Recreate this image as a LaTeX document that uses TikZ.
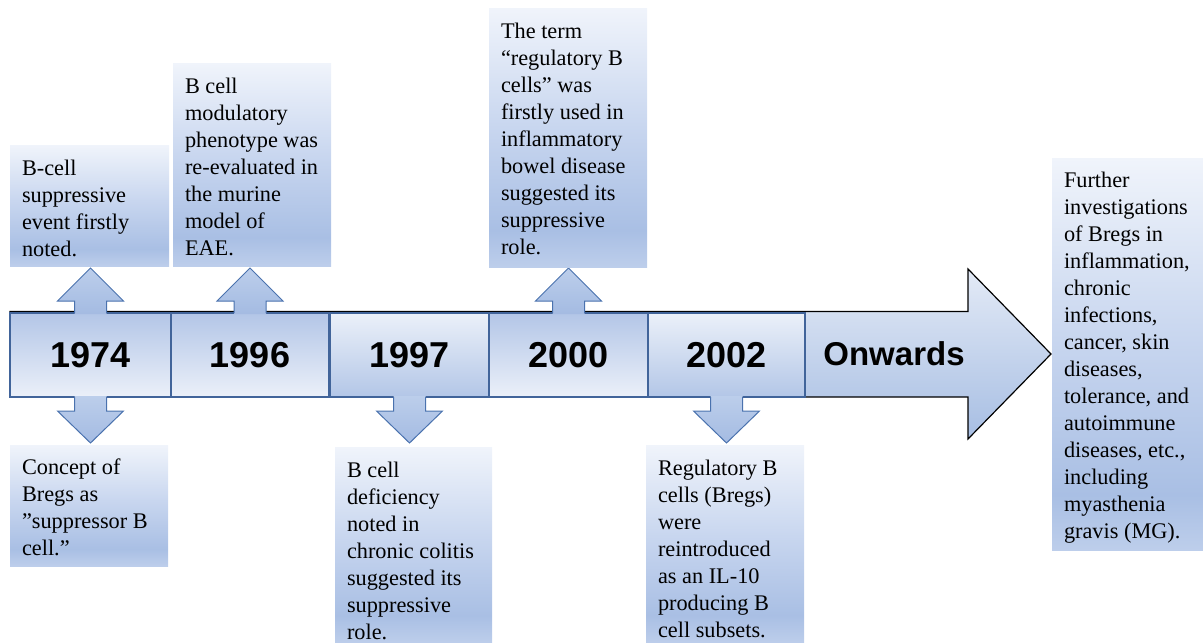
\documentclass[tikz,border=0pt]{standalone}
\usepackage{fontspec}
\setmainfont{Liberation Serif}
\newfontfamily\arialfont{Liberation Sans}
\definecolor{tbTop}{HTML}{F0F4FB}
\definecolor{tbMid}{HTML}{C8D6EF}
\definecolor{tbDark}{HTML}{A9BFE4}
\definecolor{tbBot}{HTML}{BDCEEB}
\definecolor{ybDark}{HTML}{B3C6E7}
\definecolor{ybLight}{HTML}{EBF0F9}
\definecolor{ybLine}{HTML}{41649A}
\definecolor{arLine}{HTML}{4A72AE}
\definecolor{arTop}{HTML}{BCCEEB}
\definecolor{arBot}{HTML}{A4BBE2}
\definecolor{bigTop}{HTML}{E3EAF6}
\definecolor{bigBot}{HTML}{A7BEE3}
\pgfdeclareverticalshading{txtgrad}{100bp}{color(0bp)=(tbBot); color(25bp)=(tbBot); color(32bp)=(tbDark); color(52bp)=(tbMid); color(75bp)=(tbTop); color(100bp)=(tbTop)}
\newcommand\boxtext[5]{\hspace*{#1}\parbox[t][#2][t]{#3}{\raggedright\rule{0pt}{#4}#5}}
\newcommand\blkup[1]{%
  \shade[top color=arTop, bottom color=arBot] ([xshift=-16pt,yshift=-1pt]#1.north) -- ++(0,-13) -- ++(-17,0) -- ++(33,-33) -- ++(33,33) -- ++(-17,0) -- ++(0,13) -- cycle;
  \draw[arLine, line width=1pt, line join=miter] ([xshift=-16pt]#1.north) -- ++(0,-12) -- ++(-17,0) -- ++(33,-33) -- ++(33,33) -- ++(-17,0) -- ++(0,12);}
\newcommand\blkdown[1]{%
  \shade[top color=arTop, bottom color=arBot] ([xshift=-16pt,yshift=1pt]#1.south) -- ++(0,15) -- ++(-17,0) -- ++(33,32) -- ++(33,-32) -- ++(-17,0) -- ++(0,-15) -- cycle;
  \draw[arLine, line width=1pt, line join=miter] ([xshift=-16pt]#1.south) -- ++(0,14) -- ++(-17,0) -- ++(33,32) -- ++(33,-32) -- ++(-17,0) -- ++(0,-14);}
\tikzset{
  yr/.style={draw=ybLine, line width=1.3pt, minimum height=84pt, inner sep=0pt, outer sep=0pt,
    font=\arialfont\bfseries\fontsize{36}{40}\selectfont},
  yrA/.style={yr, top color=ybDark, bottom color=ybLight},
  yrB/.style={yr, top color=ybLight, bottom color=ybDark},
  tbox/.style={shading=txtgrad, inner sep=0pt, outer sep=0pt, anchor=north west,
    font=\fontsize{22.3}{27}\selectfont}
}
\begin{document}
\begin{tikzpicture}[x=1pt, y=-1pt]
\useasboundingbox (0,0) rectangle (1203,643);
% main arrow
\draw[black, line width=1.2pt, line join=miter, top color=bigTop, bottom color=bigBot]
  (10,311.5) -- (968,311.5) -- (968,269) -- (1051,354) -- (968,439) -- (968,397) -- (10,397) -- cycle;
% year boxes
\node[yrA, minimum width=161pt] (y74) at (90.5,355) {1974};
\node[yrA, minimum width=158pt] (y96) at (250,355) {1996};
\node[yrB, minimum width=159pt] (y97) at (409.5,355) {1997};
\node[yrA, minimum width=159pt] (y00) at (568.5,355) {2000};
\node[yrB, minimum width=157pt] (y02) at (726.5,355) {2002};
\node[font=\arialfont\bfseries\fontsize{33}{38}\selectfont] (on) at (894,354) {Onwards};
% block arrows
\blkup{y74}
\blkup{y96}
\blkup{y00}
\blkdown{y74}
\blkdown{y97}
\blkdown{y02}
% text boxes
\node[tbox] (tA) at (10,145) {\boxtext{12pt}{121pt}{147pt}{30pt}{B-cell\\suppressive\\event firstly\\noted.}};
\node[tbox] (tB) at (173,63) {\boxtext{12pt}{203pt}{146pt}{30pt}{B cell\\modulatory\\phenotype was\\re-evaluated in\\the murine\\model of\\EAE.}};
\node[tbox] (tC) at (489,8) {\boxtext{12pt}{259pt}{146pt}{30pt}{The term\\“regulatory B\\cells” was\\firstly used in\\inflammatory\\bowel disease\\suggested its\\suppressive\\role.}};
\node[tbox] (tD) at (10,445) {\boxtext{12pt}{121pt}{146pt}{29pt}{Concept of\\Bregs as\\”suppressor B\\cell.”}};
\node[tbox] (tE) at (335,447) {\boxtext{12pt}{196pt}{145pt}{30pt}{B cell\\deficiency\\noted in\\chronic colitis\\suggested its\\suppressive\\role.}};
\node[tbox] (tF) at (646,445) {\boxtext{12pt}{198pt}{146pt}{30pt}{Regulatory B\\cells (Bregs)\\were\\reintroduced\\as an IL-10\\producing B\\cell subsets.}};
\node[tbox] (tG) at (1052,158) {\boxtext{12pt}{392pt}{139pt}{29pt}{Further\\investigations\\of Bregs in\\inflammation,\\chronic\\infections,\\cancer, skin\\diseases,\\tolerance, and\\autoimmune\\diseases, etc.,\\including\\myasthenia\\gravis (MG).}};
\end{tikzpicture}
\end{document}
